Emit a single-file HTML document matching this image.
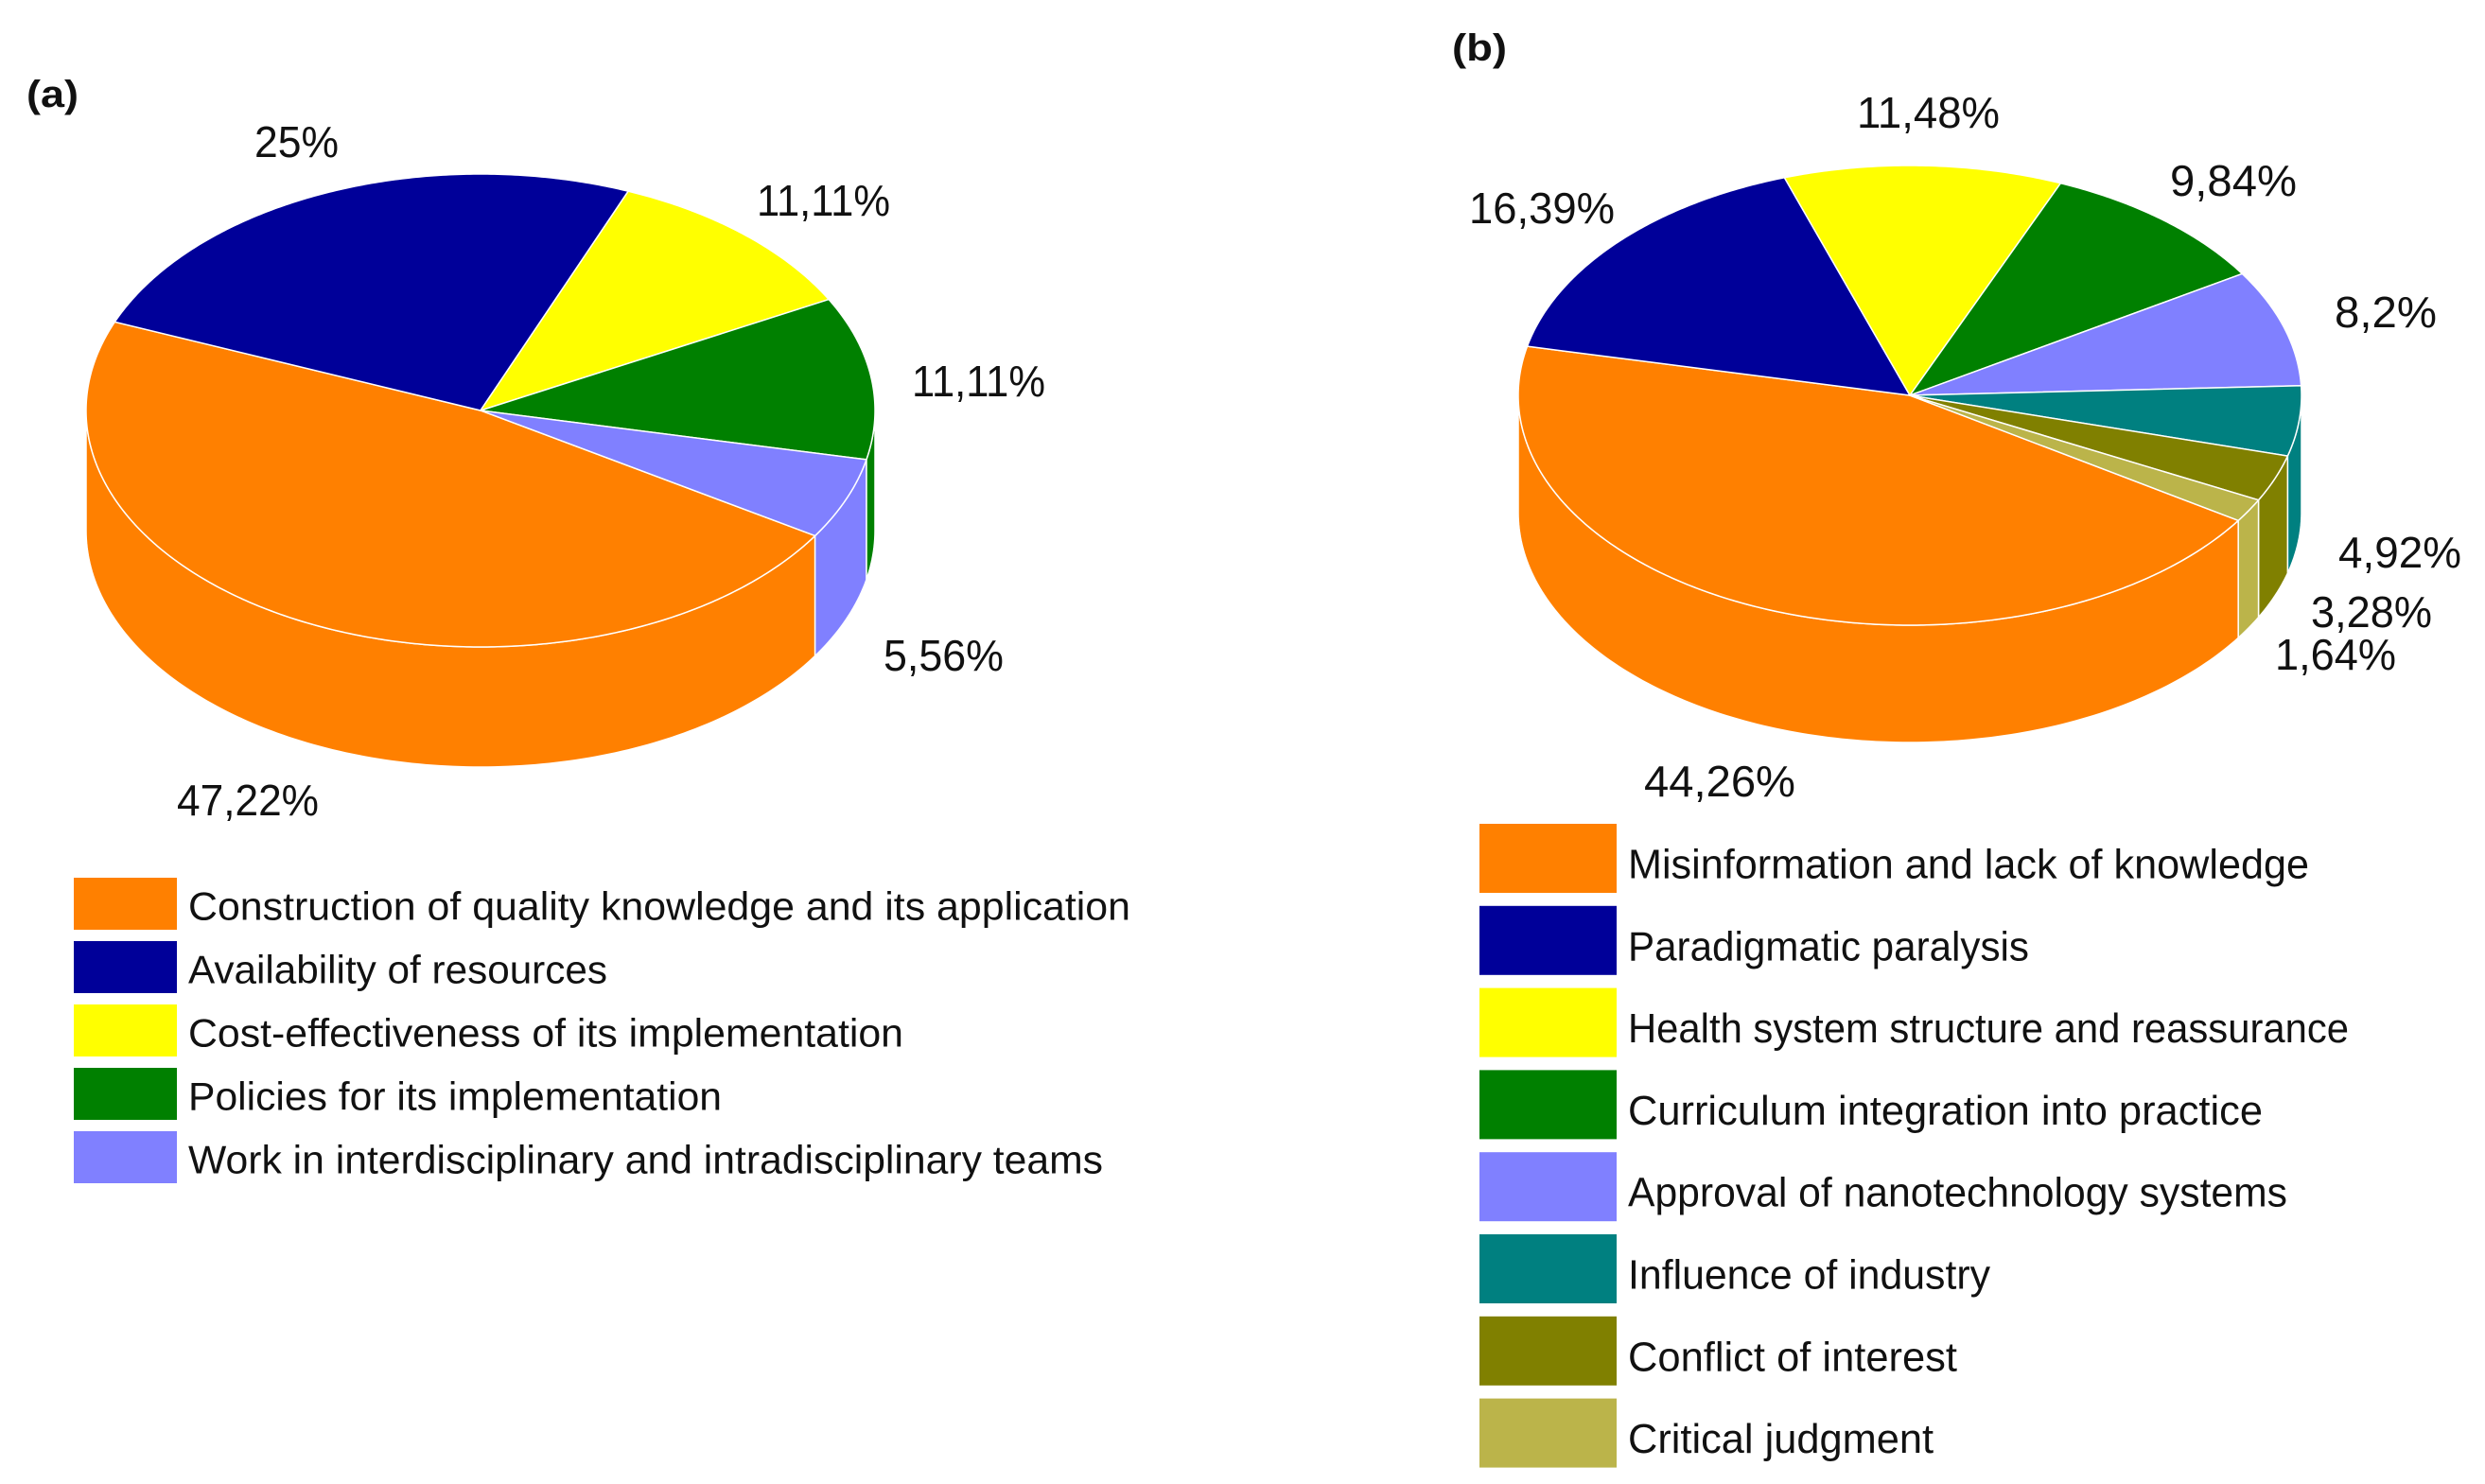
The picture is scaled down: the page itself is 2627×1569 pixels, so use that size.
<!DOCTYPE html>
<html><head><meta charset="utf-8"><style>
html,body{margin:0;padding:0;background:#fff;}
svg{display:block;}
text{font-family:"Liberation Sans",sans-serif;fill:#111;}
</style></head><body>
<svg id="chart" width="2627" height="1569" viewBox="0 0 2627 1569" xmlns="http://www.w3.org/2000/svg">
<text x="28" y="113" font-size="40" font-weight="bold" textLength="55" lengthAdjust="spacingAndGlyphs">(a)</text>
<text x="1535" y="64" font-size="40" font-weight="bold" textLength="58" lengthAdjust="spacingAndGlyphs">(b)</text>
<g id="pieA"></g>
<g id="pieB"></g>
<g id="legA"></g>
<g id="legB"></g>
</svg>
<script>
const catsA = ["Construction of quality knowledge and its application","Availability of resources","Cost-effectiveness of its implementation","Policies for its implementation","Work in interdisciplinary and intradisciplinary teams"];
const valsA = [47.22, 25, 11.11, 11.11, 5.56];
const labelsA = ["47,22%","25%","11,11%","11,11%","5,56%"];
const catsB = ["Misinformation and lack of knowledge","Paradigmatic paralysis","Health system structure and reassurance","Curriculum integration into practice","Approval of nanotechnology systems","Influence of industry","Conflict of interest","Critical judgment"];
const valsB = [44.26, 16.39, 11.48, 9.84, 8.2, 4.92, 3.28, 1.64];
const labelsB = ["44,26%","16,39%","11,48%","9,84%","8,2%","4,92%","3,28%","1,64%"];

const colA = ["#FF8000","#000099","#FFFF00","#008000","#8080FF"];
const colB = ["#FF8000","#000099","#FFFF00","#008000","#8080FF","#008080","#808000","#BBB44A"];
const NS="http://www.w3.org/2000/svg";
function mk(tag,attrs,parent){const e=document.createElementNS(NS,tag);for(const k in attrs)e.setAttribute(k,attrs[k]);parent.appendChild(e);return e;}

function drawPie(g, vals, cols, geo, labelPos, labels, prefix){
  const {cx,cy,rx,ry,depth,start}=geo;
  const total=vals.reduce((a,b)=>a+b,0);
  const pt=(t,dy)=>{const r=t*Math.PI/180;return [cx+rx*Math.cos(r), cy+ry*Math.sin(r)+(dy||0)];};
  let a=start; const sl=[];
  vals.forEach((v,i)=>{const e=a+v/total*360; sl.push([a,e,i]); a=e;});
  sl.forEach(([a0,a1,i])=>{
    [[0,180],[360,540]].forEach(([v0,v1])=>{
      const s=Math.max(a0,v0), e=Math.min(a1,v1);
      if(e<=s) return;
      const pts=[];
      for(let t=s;t<=e;t+=1) pts.push(pt(t));
      pts.push(pt(e));
      const bot=[];
      for(let t=e;t>=s;t-=1) bot.push(pt(t,depth));
      bot.push(pt(s,depth));
      const p=mk('polygon',{points:pts.concat(bot).map(q=>q.join(',')).join(' '),fill:cols[i],stroke:'#fff','stroke-width':1.5,'stroke-linejoin':'round'},g);
      
      
    });
  });
  sl.forEach(([a0,a1,i])=>{
    const pts=[[cx,cy]];
    for(let t=a0;t<a1;t+=0.5) pts.push(pt(t));
    pts.push(pt(a1));
    const p=mk('polygon',{points:pts.map(q=>q.join(',')).join(' '),fill:cols[i],stroke:'#fff','stroke-width':1.5,'stroke-linejoin':'round'},g);
    
    
  });
  labels.forEach((l,i)=>{
    const [x,y,w]=labelPos[i];
    const t=mk('text',{x:x,y:y,'font-size':46,textLength:w,lengthAdjust:'spacingAndGlyphs'},g);
    t.textContent=l;
    
    
  });
}
drawPie(document.getElementById('pieA'), valsA, colA, {cx:508,cy:434,rx:417,ry:250,depth:127,start:32},
  [[187,862,150],[269,166,89],[800,228,141],[964,419,141],[934,709,127]], labelsA, 'pie-a');
drawPie(document.getElementById('pieB'), valsB, colB, {cx:2019,cy:418,rx:414,ry:243,depth:124,start:33},
  [[1738,842,160],[1553,236,154],[1963,135,151],[2294,207,134],[2468,346,108],[2472,600,130],[2443,663,128],[2405,708,128]], labelsB, 'pie-b');

function drawLegend(g, cats, cols, x0, y0, pitch, sw, sh, tx, tdy, fs, widths, prefix){
  cats.forEach((c,i)=>{
    const y=y0+i*pitch;
    const r=mk('rect',{x:x0,y:y,width:sw,height:sh,fill:cols[i]},g);
    
    
    const t=mk('text',{x:tx,y:y+sh/2+tdy,'font-size':fs,textLength:widths[i],lengthAdjust:'spacingAndGlyphs'},g);
    t.textContent=c;
    
    
  });
}
drawLegend(document.getElementById('legA'), catsA, colA, 78, 928, 67, 109, 55, 199, 17, 42,
  [996, 443, 756, 564, 967], 'legend-a');
drawLegend(document.getElementById('legB'), catsB, colB, 1564, 871, 86.8, 145, 73, 1721, 21, 44,
  [720, 424, 762, 671, 697, 383, 348, 323], 'legend-b');
</script>
</body></html>
